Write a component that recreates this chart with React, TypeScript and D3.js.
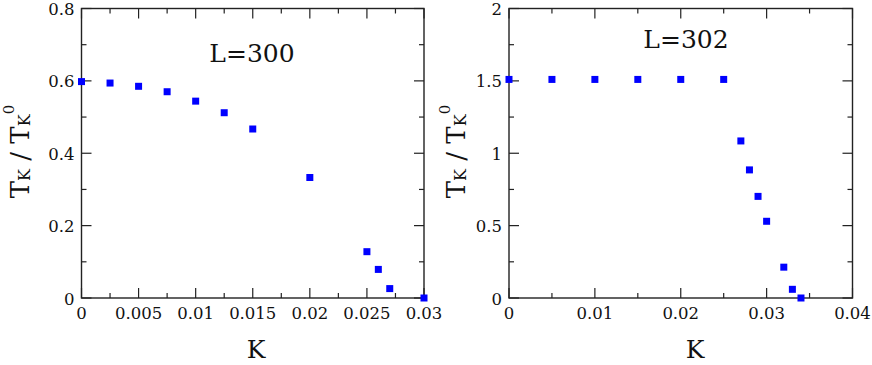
import React from 'react';
import * as d3 from 'd3';

// left panel, L=300
const kLeft = [0, 0.0025, 0.005, 0.0075, 0.01, 0.0125, 0.015, 0.02, 0.025, 0.026, 0.027, 0.03];
const tLeft = [0.598, 0.594, 0.585, 0.57, 0.544, 0.512, 0.467, 0.333, 0.128, 0.079, 0.026, 0];
const xTicksLeft = ['0', '0.005', '0.01', '0.015', '0.02', '0.025', '0.03'];
const yTicksLeft = ['0', '0.2', '0.4', '0.6', '0.8'];

// right panel, L=302
const kRight = [0, 0.005, 0.01, 0.015, 0.02, 0.025, 0.027, 0.028, 0.029, 0.03, 0.032, 0.033, 0.034];
const tRight = [1.51, 1.51, 1.51, 1.51, 1.51, 1.51, 1.085, 0.885, 0.702, 0.53, 0.213, 0.06, 0];
const xTicksRight = ['0', '0.01', '0.02', '0.03', '0.04'];
const yTicksRight = ['0', '0.5', '1', '1.5', '2'];

const FONT = 'DejaVu Serif, serif';
const AXIS = '#222';

function Panel({ left, right, top, bottom, xs, ys, xTicks, yTicks, xMinor, yMinor, title, titleX, titleY, kX, yLabelX }) {
  const xMax = +xTicks[xTicks.length - 1];
  const yMax = +yTicks[yTicks.length - 1];
  const x = d3.scaleLinear().domain([0, xMax]).range([left, right]);
  const y = d3.scaleLinear().domain([0, yMax]).range([bottom, top]);
  const xMaj = xTicks.map(Number);
  const yMaj = yTicks.map(Number);
  const xMin = d3.range(0, xMax + 1e-9, xMinor).filter(v => !xMaj.some(m => Math.abs(m - v) < 1e-9));
  const yMin = d3.range(0, yMax + 1e-9, yMinor).filter(v => !yMaj.some(m => Math.abs(m - v) < 1e-9));
  const major = 10;
  const minor = 5;
  const s = 7;

  return (
    <g fontFamily={FONT}>
      {xMaj.map(v => (
        <g key={'xm' + v}>
          <line x1={x(v)} x2={x(v)} y1={bottom} y2={bottom - major} stroke={AXIS} strokeWidth={1.2} />
          <line x1={x(v)} x2={x(v)} y1={top} y2={top + major} stroke={AXIS} strokeWidth={1.2} />
        </g>
      ))}
      {xMin.map(v => (
        <g key={'xn' + v}>
          <line x1={x(v)} x2={x(v)} y1={bottom} y2={bottom - minor} stroke={AXIS} strokeWidth={1.2} />
          <line x1={x(v)} x2={x(v)} y1={top} y2={top + minor} stroke={AXIS} strokeWidth={1.2} />
        </g>
      ))}
      {yMaj.map(v => (
        <g key={'ym' + v}>
          <line x1={left} x2={left + major} y1={y(v)} y2={y(v)} stroke={AXIS} strokeWidth={1.2} />
          <line x1={right} x2={right - major} y1={y(v)} y2={y(v)} stroke={AXIS} strokeWidth={1.2} />
        </g>
      ))}
      {yMin.map(v => (
        <g key={'yn' + v}>
          <line x1={left} x2={left + minor} y1={y(v)} y2={y(v)} stroke={AXIS} strokeWidth={1.2} />
          <line x1={right} x2={right - minor} y1={y(v)} y2={y(v)} stroke={AXIS} strokeWidth={1.2} />
        </g>
      ))}
      <rect x={left} y={top} width={right - left} height={bottom - top} fill="none" stroke={AXIS} strokeWidth={1.4} />

      {xTicks.map((t, i) => (
        <text key={'xl' + t} x={x(xMaj[i])} y={bottom + 21} textAnchor="middle" fontSize={16.5} fill="#111">
          {t}
        </text>
      ))}
      {yTicks.map((t, i) => (
        <text key={'yl' + t} x={left - 7} y={y(yMaj[i]) + 6.5} textAnchor="end" fontSize={16.5} fill="#111">
          {t}
        </text>
      ))}

      {xs.map((k, i) => (
        <rect key={'p' + i} x={x(k) - s / 2} y={y(ys[i]) - s / 2} width={s} height={s} fill="#0000ff" />
      ))}

      <text x={titleX} y={titleY} textAnchor="middle" fontSize={25} fill="#111">
        {title}
      </text>
      <text x={kX} y={358} textAnchor="middle" fontSize={25} fill="#111">
        K
      </text>
      <text
        transform={`translate(${yLabelX},${(top + bottom) / 2 + 45}) rotate(-90)`}
        fontSize={26}
        fill="#111"
      >
        <tspan>T</tspan>
        <tspan fontSize={16} dy={1}>K</tspan>
        <tspan dy={-1}> / T</tspan>
        <tspan fontSize={16} dy={1}>K</tspan>
        <tspan fontSize={15} dy={-16}>0</tspan>
      </text>
    </g>
  );
}

export default function App() {
  return (
    <svg width={872} height={365} style={{ position: 'absolute', left: 0, top: 0, background: '#fff' }}>
      <rect width={872} height={365} fill="#fff" />
      <Panel
        left={81.5}
        right={424}
        top={8.5}
        bottom={298}
        xs={kLeft}
        ys={tLeft}
        xTicks={xTicksLeft}
        yTicks={yTicksLeft}
        xMinor={0.0025}
        yMinor={0.1}
        title="L=300"
        titleX={252}
        titleY={62}
        kX={256}
        yLabelX={28.5}
      />
      <Panel
        left={509}
        right={852.5}
        top={8.5}
        bottom={298}
        xs={kRight}
        ys={tRight}
        xTicks={xTicksRight}
        yTicks={yTicksRight}
        xMinor={0.005}
        yMinor={0.25}
        title="L=302"
        titleX={686}
        titleY={48}
        kX={695}
        yLabelX={465}
      />
    </svg>
  );
}
